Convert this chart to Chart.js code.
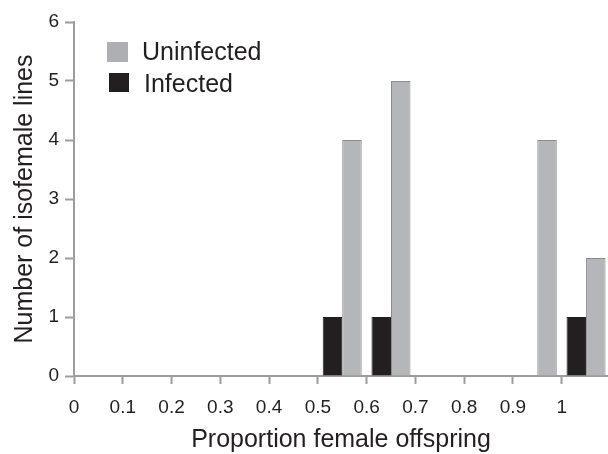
<!DOCTYPE html>
<html>
<head>
<meta charset="utf-8">
<title>Proportion female offspring</title>
<script src="https://cdn.jsdelivr.net/npm/chart.js@4.4.1/dist/chart.umd.min.js"></script>
<style>
	html, body { margin: 0; padding: 0; background: #fff; }
	#chart { display: block; }
</style>
</head>
<body>
<canvas id="chart" width="608" height="454"></canvas>
<script>
	'use strict';

	// bin centres of the histogram (proportion female offspring)
	const binCenters = [0.05, 0.15, 0.25, 0.35, 0.45, 0.55, 0.65, 0.75, 0.85, 0.95, 1.05];
	const uninfected = [0, 0, 0, 0, 0, 4, 5, 0, 0, 4, 2];
	const infected = [0, 0, 0, 0, 0, 1, 1, 0, 0, 0, 1];
	const xTicks = [0, 0.1, 0.2, 0.3, 0.4, 0.5, 0.6, 0.7, 0.8, 0.9, 1];
	const yTicks = [0, 1, 2, 3, 4, 5, 6];

	const ink = '#231f20';
	const axisGray = '#9d9d9d';

	Chart.defaults.font.family = '"Liberation Sans", Arial, Helvetica, sans-serif';
	Chart.defaults.color = ink;

	function toPoints(values) {
		return binCenters.map(function (x, i) {
			return { x: x, y: values[i] };
		});
	}

	// legend drawn inside the plot, uninfected listed first
	const insideLegend = {
		id: 'insideLegend',
		afterDraw: function (chart) {
			const ctx = chart.ctx;
			const items = [
				{ ds: chart.data.datasets[1], box: [107, 42, 21, 20], fill: '#aeafb3', tx: 142, ty: 60 },
				{ ds: chart.data.datasets[0], box: [109, 73, 20, 19], fill: ink, tx: 144, ty: 92 }
			];

			ctx.save();
			ctx.font = '25px "Liberation Sans", Arial, sans-serif';
			ctx.textBaseline = 'alphabetic';
			ctx.textAlign = 'left';
			items.forEach(function (item) {
				ctx.fillStyle = item.fill;
				ctx.fillRect(item.box[0], item.box[1], item.box[2], item.box[3]);
				ctx.fillStyle = ink;
				ctx.fillText(item.ds.label, item.tx, item.ty);
			});
			ctx.restore();
		}
	};

	new Chart(document.getElementById('chart'), {
		type: 'bar',
		data: {
			datasets: [{
				label: 'Infected',
				data: toPoints(infected),
				backgroundColor: ink,
				borderColor: ink,
				borderWidth: 1
			}, {
				label: 'Uninfected',
				data: toPoints(uninfected),
				backgroundColor: '#b5b6ba',
				borderColor: '#8c8c8e',
				borderWidth: 1
			}]
		},
		options: {
			responsive: false,
			animation: false,
			devicePixelRatio: 1,
			categoryPercentage: 0.8,
			barPercentage: 1.0,
			layout: { padding: { top: 22, right: 0, left: 0, bottom: 0 } },
			plugins: {
				legend: { display: false },
				tooltip: { enabled: false }
			},
			scales: {
				x: {
					type: 'linear',
					offset: false,
					min: 0,
					max: 1.095,
					afterFit: function (scale) { scale.height = 78; },
					afterBuildTicks: function (scale) {
						scale.ticks = xTicks.map(function (v) { return { value: v }; });
					},
					ticks: {
						includeBounds: false,
						autoSkip: false,
						maxRotation: 0,
						padding: 12,
						font: { size: 19 },
						color: ink,
						callback: function (v) { return String(Math.round(v * 10) / 10); }
					},
					grid: {
						offset: false,
						drawOnChartArea: false,
						tickLength: 8,
						tickWidth: 2,
						tickColor: axisGray
					},
					border: { color: axisGray, width: 2 },
					title: {
						display: true,
						text: 'Proportion female offspring',
						font: { size: 25, lineHeight: 1 },
						color: ink,
						padding: { top: 0, bottom: 1 }
					}
				},
				y: {
					min: 0,
					max: 6,
					afterFit: function (scale) { scale.width = 74; },
					afterBuildTicks: function (scale) {
						scale.ticks = yTicks.map(function (v) { return { value: v }; });
					},
					ticks: {
						padding: 6,
						font: { size: 19 },
						color: ink
					},
					grid: {
						drawOnChartArea: false,
						tickLength: 9,
						tickWidth: 2,
						tickColor: axisGray
					},
					border: { color: axisGray, width: 2 },
					title: {
						display: true,
						text: 'Number of isofemale lines',
						font: { size: 25, lineHeight: 1.2 },
						color: ink,
						padding: { top: 10, bottom: 0 }
					}
				}
			}
		},
		plugins: [insideLegend]
	});
</script>
</body>
</html>
